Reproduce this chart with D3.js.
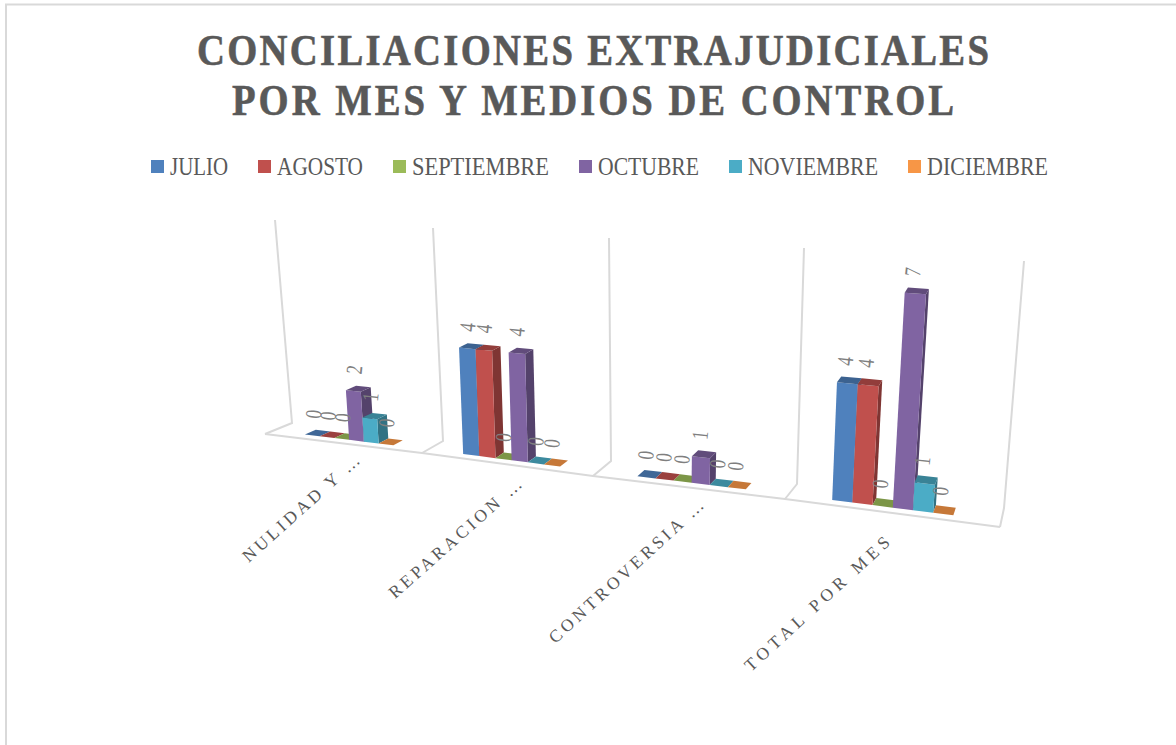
<!DOCTYPE html>
<html><head><meta charset="utf-8">
<script src="https://cdn.jsdelivr.net/npm/d3@7/dist/d3.min.js"></script>
<style>html,body{margin:0;padding:0;background:#fff}svg{display:block}text{font-family:"Liberation Serif",serif}</style>
</head><body><svg id="c" width="1176" height="745"></svg>
<script>
const categories = ["NULIDAD Y …","REPARACION …","CONTROVERSIA …","TOTAL POR MES"];
const seriesNames = ["JULIO","AGOSTO","SEPTIEMBRE","OCTUBRE","NOVIEMBRE","DICIEMBRE"];
const julio = [0,4,0,4];
const agosto = [0,4,0,4];
const septiembre = [0,0,0,0];
const octubre = [2,4,1,7];
const noviembre = [1,0,0,1];
const diciembre = [0,0,0,0];
const seriesValues = [julio,agosto,septiembre,octubre,noviembre,diciembre];
const seriesColors = ["#4F81BD","#C0504D","#9BBB59","#8064A2","#4BACC6","#F79646"];
const titleLines = ["CONCILIACIONES EXTRAJUDICIALES","POR MES Y MEDIOS DE CONTROL"];
const valueMax = 8;

const svg = d3.select("#c");
const ink = "#595959";

// frame
svg.append("path").attr("d","M6,746V4.5H1176").attr("fill","none").attr("stroke","#d9d9d9").attr("stroke-width",2);

// title
const titleSquash = 0.86;
svg.selectAll(".t").data(titleLines).join("text").attr("class","t")
  .attr("transform",(d,i)=>`translate(593,${65+i*50}) scale(${titleSquash},1)`).attr("text-anchor","middle")
  .attr("font-size",45).attr("font-weight","bold").attr("fill",ink).attr("stroke",ink).attr("stroke-width",0.6)
  .attr("textLength",(d,i)=>[792,722][i]/titleSquash).attr("lengthAdjust","spacing").text(d=>d);

// legend
const legendX = [151,258,393,579,729,908];
const legendW = [58,86,137,101,130,121];
const lg = svg.selectAll(".l").data(seriesNames).join("g").attr("class","l")
  .attr("transform",(d,i)=>`translate(${legendX[i]},160)`);
lg.append("rect").attr("width",13).attr("height",13).attr("fill",(d,i)=>seriesColors[i]);
lg.append("text").attr("x",19).attr("y",14.5).attr("font-size",24.5).attr("fill",ink)
  .attr("textLength",(d,i)=>legendW[i]).attr("lengthAdjust","spacingAndGlyphs").text(d=>d);

// perspective frame expressed as scales over the category coordinate
const uDom = [0,1,2,3,4];
const frontX = d3.scaleLinear().domain(uDom).range([265,422,593,785,1000]);
const frontY = d3.scaleLinear().domain(uDom).range([434,453,476,499,527]);
const backX  = d3.scaleLinear().domain(uDom).range([292,443,611,797,1004]);
const backY  = d3.scaleLinear().domain(uDom).range([423,441,461,484,508]);
const topX   = d3.scaleLinear().domain(uDom).range([275,433,609,804,1024]);
const topY   = d3.scaleLinear().domain(uDom).range([220,228,238,248,261]);
const valueFrac = d3.scalePow().exponent(1.05).domain([0,valueMax]).range([0,1.01]);

function project(u,d,v){
  const f = valueFrac(v)*(1+(1-d)*0.02);
  const bx = frontX(u)+(backX(u)-frontX(u))*d, by = frontY(u)+(backY(u)-frontY(u))*d;
  return [bx+(topX(u)-backX(u))*f, by+(topY(u)-backY(u))*f];
}
const line = d3.line();
const wall = svg.append("g").attr("fill","none").attr("stroke","#d9d9d9").attr("stroke-width",2);
wall.append("path").attr("d",line(uDom.map(u=>[frontX(u),frontY(u)])));
uDom.forEach(u=>{
  wall.append("path").attr("d",line([[frontX(u),frontY(u)],[backX(u),backY(u)],[topX(u),topY(u)]]));
});

// bars
const barStart=0.205, barStep=0.095, d0=0.3, d1=0.72;
const barsG = svg.append("g");
const labels = [];
categories.forEach((c,ci)=>{
  seriesValues.forEach((vals,si)=>{
    const v = vals[ci];
    const u0 = ci+barStart+si*barStep, u1 = u0+barStep;
    const col = seriesColors[si];
    const shade = k=>{const q=d3.rgb(col);return d3.rgb(q.r*k,q.g*k,q.b*k).formatHex();};
    const a=project(u0,d0,v), b=project(u1,d0,v), a2=project(u0,d1,v), b2=project(u1,d1,v);
    const a0=project(u0,d0,0), b0=project(u1,d0,0), b02=project(u1,d1,0);
    const g = barsG.append("g");
    if(v>0){
      g.append("path").attr("d",line([b,b2,b02,b0])+"Z").attr("fill",shade(0.66));
      g.append("path").attr("d",line([a0,b0,b,a])+"Z").attr("fill",col);
    }
    g.append("path").attr("d",line([a,b,b2,a2])+"Z").attr("fill",shade(v>0?0.76:0.8));
    const cu=(u0+u1)/2, p=project(cu,(d0+d1)/2,v);
    labels.push({x:p[0]-4,y:p[1]-19,v});
  });
});
svg.selectAll(".v").data(labels).join("text").attr("class","v")
  .attr("transform",d=>`translate(${d.x},${d.y}) rotate(-84) scale(0.75,1)`)
  .attr("text-anchor","middle").attr("dy","0.33em").attr("font-size",23).attr("fill","#7f7f7f").text(d=>d.v);

// category labels
const labelEndX=[361,523,705,891], labelEndY=[462,486,507,544];
const labelAngle=[-42,-41.5,-42.5,-42.5];
const labelLen=[151,171,203,190];
svg.selectAll(".c").data(categories).join("text").attr("class","c")
  .attr("transform",(d,i)=>`translate(${labelEndX[i]},${labelEndY[i]}) rotate(${labelAngle[i]})`)
  .attr("text-anchor","end").attr("font-size",17.5).attr("fill",ink)
  .attr("textLength",(d,i)=>labelLen[i]).attr("lengthAdjust","spacing").text(d=>d);
</script></body></html>
